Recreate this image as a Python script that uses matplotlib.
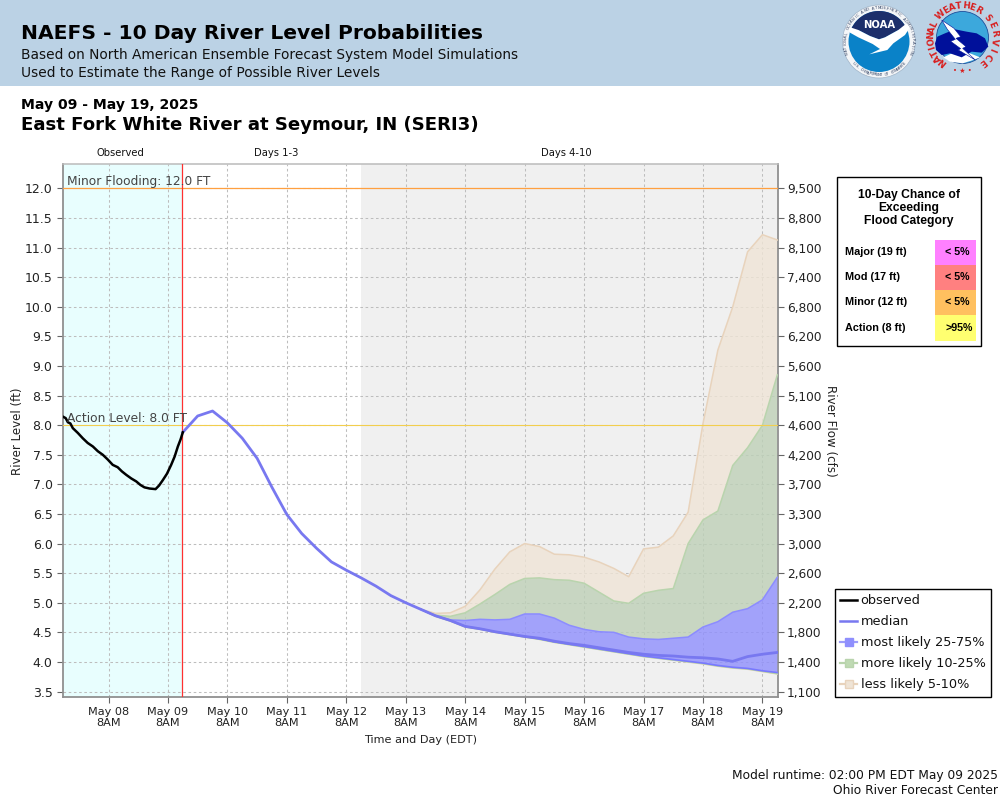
import numpy as np
import pandas as pd
import matplotlib
matplotlib.use('Agg')
import matplotlib.pyplot as plt
from matplotlib.lines import Line2D
from matplotlib.patches import Rectangle, Circle, Polygon

# ---------- data ----------
title = "NAEFS - 10 Day River Level Probabilities"
subtitle1 = "Based on North American Ensemble Forecast System Model Simulations"
subtitle2 = "Used to Estimate the Range of Possible River Levels"
date_range_text = "May 09 - May 19, 2025"
station = "East Fork White River at Seymour, IN (SERI3)"

obs_hours = [-18.2, -17.3, -16.4, -15.4, -14.4, -12.4, -10.4, -8.4, -6.3, -4.3, -2.3, -0.3, 1.7, 3.7, 5.4, 7.2, 9.2, 11.2, 12.9, 14.5, 16.6, 19.0, 20.4, 21.9, 23.6, 25.3, 26.7, 28.0, 29.1, 30.0]
observed = [8.14, 8.12, 8.05, 8.03, 7.95, 7.87, 7.78, 7.70, 7.64, 7.56, 7.50, 7.42, 7.33, 7.29, 7.22, 7.16, 7.10, 7.05, 6.99, 6.95, 6.93, 6.92, 6.98, 7.07, 7.18, 7.33, 7.47, 7.64, 7.76, 7.88]

median_early = [7.88, 8.156, 8.24, 8.04, 7.78, 7.44, 6.95, 6.49, 6.17, 5.92, 5.69, 5.55, 5.42, 5.28, 5.12, 5.00]
median_late = [4.89, 4.78, 4.70, 4.60, 4.56, 4.51, 4.47, 4.43, 4.40, 4.35, 4.31, 4.28, 4.24, 4.20, 4.16,
               4.13, 4.11, 4.10, 4.08, 4.07, 4.05, 4.01, 4.09, 4.13, 4.16]
p75 = [4.89, 4.78, 4.71, 4.70, 4.72, 4.71, 4.72, 4.81, 4.81, 4.74, 4.62, 4.55, 4.51, 4.50, 4.42,
       4.39, 4.38, 4.40, 4.42, 4.59, 4.68, 4.84, 4.90, 5.05, 5.43]
p25 = [4.89, 4.78, 4.70, 4.60, 4.56, 4.51, 4.47, 4.43, 4.39, 4.34, 4.30, 4.26, 4.22, 4.18, 4.14,
       4.10, 4.07, 4.04, 4.01, 3.98, 3.94, 3.91, 3.89, 3.85, 3.82]
p90 = [4.89, 4.79, 4.77, 4.83, 4.98, 5.14, 5.31, 5.41, 5.42, 5.39, 5.38, 5.33, 5.18, 5.03, 4.99,
       5.16, 5.21, 5.24, 6.00, 6.40, 6.55, 7.32, 7.62, 8.00, 8.85]
p10 = [4.89, 4.77, 4.69, 4.59, 4.55, 4.50, 4.46, 4.42, 4.38, 4.33, 4.29, 4.25, 4.21, 4.17, 4.13,
       4.09, 4.06, 4.03, 4.00, 3.97, 3.93, 3.90, 3.88, 3.84, 3.80]
p95 = [4.89, 4.82, 4.83, 4.94, 5.22, 5.57, 5.86, 6.00, 5.95, 5.82, 5.81, 5.77, 5.69, 5.58, 5.44,
       5.91, 5.94, 6.13, 6.53, 8.03, 9.27, 10.00, 10.93, 11.22, 11.13]
p5 = [4.89, 4.77, 4.69, 4.59, 4.55, 4.50, 4.46, 4.42, 4.38, 4.33, 4.29, 4.25, 4.21, 4.17, 4.13,
      4.09, 4.06, 4.03, 3.995, 3.965, 3.925, 3.895, 3.875, 3.835, 3.795]

stage_ticks = [3.5, 4.0, 4.5, 5.0, 5.5, 6.0, 6.5, 7.0, 7.5, 8.0, 8.5, 9.0, 9.5, 10.0, 10.5, 11.0, 11.5, 12.0]
flow_ticks = [1100, 1400, 1800, 2200, 2600, 3000, 3300, 3700, 4200, 4600, 5100, 5600, 6200, 6800, 7400, 8100, 8800, 9500]
day_ticks = ['May 08', 'May 09', 'May 10', 'May 11', 'May 12', 'May 13', 'May 14', 'May 15', 'May 16', 'May 17', 'May 18', 'May 19']

minor_level, action_level = 12.0, 8.0
cat_names = ['Major (19 ft)', 'Mod (17 ft)', 'Minor (12 ft)', 'Action (8 ft)']
cat_chance = ['< 5%', '< 5%', '< 5%', '>95%']
cat_colors = ['#FF80FF', '#FF8080', '#FFC05F', '#FFFF70']

# ---------- helpers ----------
W, H = 1000, 800
fig = plt.figure(figsize=(10, 8), dpi=100, facecolor='white')
plt.rcParams['font.family'] = 'DejaVu Sans'
def fx(x): return x / W
def fy(y): return 1 - y / H
def T(x, y, s, **kw):
    kw.setdefault('va', 'center')
    return fig.text(fx(x), fy(y), s, **kw)
def R(x0, y0, x1, y1, **kw):
    fig.add_artist(Rectangle((fx(x0), fy(y1)), (x1 - x0) / W, (y1 - y0) / H, transform=fig.transFigure, **kw))

# ---------- header ----------
R(0, 0, 1000, 86, facecolor='#BBD2E5', edgecolor='none', zorder=0)
T(21, 33.5, title, fontsize=14.6, fontweight='bold', color='black')
T(21, 55, subtitle1, fontsize=9.87, color='#111111')
T(21, 73, subtitle2, fontsize=9.87, color='#111111')
T(21, 105, date_range_text, fontsize=10.1, fontweight='bold', color='black')
T(21, 125.5, station, fontsize=13.1, fontweight='bold', color='black')

# ---------- main axes ----------
ax = fig.add_axes([fx(63), fy(697), (778 - 63) / W, (697 - 164) / H])
t0 = pd.Timestamp('2025-05-08 08:00')
def hrs(ts): return (ts - t0) / pd.Timedelta(hours=1)
fc_times = pd.date_range('2025-05-09 14:00', periods=41, freq='6h')
fc_x = np.array([hrs(t) for t in fc_times])
median = np.array(median_early + median_late)
late_x = fc_x[16:]
run_x = fc_x[0]
ext_x = fc_x[12]

scale = 59.45 / 24
x0_px = 108.5
x_left, x_right = (63 - x0_px) / scale, (778 - x0_px) / scale
ax.set_xlim(x_left, x_right)
y_per_px = 1 / 59.18
ax.set_ylim(3.5 - 5.5 * y_per_px, 12 + 24.5 * y_per_px)

ax.axvspan(x_left, run_x, facecolor='#E8FEFE', edgecolor='none', zorder=0)
ax.axvspan(ext_x, x_right, facecolor='#F0F0F0', edgecolor='none', zorder=0)

tick_x = np.arange(len(day_ticks)) * 24.0
ax.set_xticks(tick_x)
ax.set_xticklabels([d + '\n8AM' for d in day_ticks], fontsize=8.1, linespacing=1.15, color='#222222')
ax.set_yticks(stage_ticks)
ax.set_yticklabels(['%.1f' % v for v in stage_ticks], fontsize=9.0, color='#222222')
ax.tick_params(axis='x', length=4, width=0.8, color='#666666', pad=3)
ax.tick_params(axis='y', length=4, width=0.8, color='#666666', pad=3.5)
ax.grid(True, color='#BDBDBD', linestyle=(0, (2.5, 2.5)), linewidth=0.75, zorder=1)
ax.set_axisbelow(True)

# bands
ax.fill_between(late_x, p90, p95, facecolor='#EFE4D6', alpha=0.8, edgecolor='none', zorder=2)
ax.fill_between(late_x, p75, p90, facecolor='#BED0B7', alpha=0.8, edgecolor='none', zorder=2)
ax.fill_between(late_x, p25, p75, facecolor='#8F8FFD', alpha=0.8, edgecolor='none', zorder=3)
ax.fill_between(late_x, p10, p25, facecolor='#BED0B7', alpha=0.8, edgecolor='none', zorder=2)
ax.fill_between(late_x, p5, p10, facecolor='#EFE4D6', alpha=0.8, edgecolor='none', zorder=2)
ax.plot(late_x, p95, color='#E8D3BC', lw=1.1, zorder=3)
ax.plot(late_x, p90, color='#B9D4AD', lw=1.1, zorder=3)
ax.plot(late_x, p5, color='#E8D3BC', lw=1.0, zorder=3)
ax.plot(late_x, p10, color='#B0D4A4', lw=1.0, zorder=3)
ax.plot(late_x, p75, color='#8C8CFF', lw=1.1, zorder=4)
ax.plot(late_x, p25, color='#7878FF', lw=1.2, zorder=4)

# levels
ax.axhline(minor_level, color='#FFA040', lw=0.9, zorder=5)
ax.axhline(action_level, color='#F2CE4E', lw=0.8, zorder=5)
ax.axvline(run_x - 0.4, color='#FF3030', lw=0.9, zorder=6)

# lines
ax.plot(fc_x, median, color='#7878F0', lw=2.0, solid_joinstyle='round', zorder=7)
ax.plot(obs_hours, observed, color='black', lw=1.8, solid_joinstyle='round', zorder=8)

ax.text((67 - x0_px) / scale, 12.12, 'Minor Flooding: 12.0 FT', fontsize=8.85, color='#444444', va='center', zorder=9)
ax.text((67 - x0_px) / scale, 8.12, 'Action Level: 8.0 FT', fontsize=8.85, color='#444444', va='center', zorder=9)

for side, col, w in [('left', '#909090', 1.3), ('bottom', '#909090', 1.3), ('right', '#909090', 1.3), ('top', '#BBBBBB', 1.1)]:
    ax.spines[side].set_color(col)
    ax.spines[side].set_linewidth(w)

axr = ax.twinx()
axr.set_ylim(ax.get_ylim())
axr.set_yticks(stage_ticks)
axr.set_yticklabels(['{:,}'.format(v) for v in flow_ticks], fontsize=8.7, color='#222222')
axr.tick_params(axis='y', length=4, width=0.8, color='#666666', pad=2.5)
for s in axr.spines.values():
    s.set_visible(False)

T(120, 153.5, 'Observed', fontsize=7.2, ha='center', color='#111111')
T(276.5, 153.5, 'Days 1-3', fontsize=7.2, ha='center', color='#111111')
T(566.5, 153.5, 'Days 4-10', fontsize=7.2, ha='center', color='#111111')
T(421, 740, 'Time and Day (EDT)', fontsize=8.1, ha='center', color='#222222')
T(18, 431, 'River Level (ft)', fontsize=8.6, ha='center', rotation=90, color='#222222')
T(831, 431, 'River Flow (cfs)', fontsize=8.6, ha='center', rotation=-90, color='#222222')

# ---------- legend ----------
handles = [
    Line2D([], [], color='black', lw=1.8),
    Line2D([], [], color='#7878F0', lw=1.8),
    Line2D([], [], color='#9C9CFA', lw=1.6, marker='s', ms=5.5, mfc='#8F8FFD', mec='#8F8FFD'),
    Line2D([], [], color='#B9D4AD', lw=1.6, marker='s', ms=5.5, mfc='#BFDAB3', mec='#B9D4AD'),
    Line2D([], [], color='#E8D3BC', lw=1.6, marker='s', ms=5.5, mfc='#EFE4D6', mec='#E8D3BC'),
]
labels = ['observed', 'median', 'most likely 25-75%', 'more likely 10-25%', 'less likely 5-10%']
leg = fig.legend(handles, labels, loc='lower left', bbox_to_anchor=(fx(835), fy(696.5)), bbox_transform=fig.transFigure,
                 fontsize=9.3, frameon=True, fancybox=False, edgecolor='black', framealpha=1,
                 handlelength=1.3, handletextpad=0.28, labelspacing=0.62, borderpad=0.4, borderaxespad=0)
leg.get_frame().set_linewidth(1.0)
for t in leg.get_texts():
    t.set_color('#111111')

# ---------- flood category box ----------
R(836.5, 176.5, 980.5, 345.5, facecolor='white', edgecolor='black', lw=1.0, zorder=3)
lib = 'Liberation Sans'
for yy, s in zip([195, 208, 221], ['10-Day Chance of', 'Exceeding', 'Flood Category']):
    T(909, yy, s, fontsize=8.7, fontweight='bold', family=lib, ha='center', zorder=5)
cell_y = [240, 265, 290, 315, 341]
for i, (n, c, col) in enumerate(zip(cat_names, cat_chance, cat_colors)):
    R(935, cell_y[i], 976, cell_y[i + 1], facecolor=col, edgecolor='none', zorder=4)
    ym = (cell_y[i] + cell_y[i + 1]) / 2 - 0.5
    T(845, ym, n, fontsize=7.8, fontweight='bold', family=lib, zorder=5)
    T(945, ym, c, fontsize=7.7, fontweight='bold', family=lib, zorder=5)

# ---------- footer ----------
T(998, 775.5, 'Model runtime: 02:00 PM EDT May 09 2025', fontsize=8.8, ha='right', color='#111111')
T(998, 791, 'Ohio River Forecast Center', fontsize=8.8, ha='right', color='#111111')

# ---------- logos ----------
lg = fig.add_axes([fx(830), fy(86), 170 / W, 86 / H])
lg.set_xlim(830, 1000)
lg.set_ylim(86, 0)
lg.axis('off')
lg.patch.set_alpha(0)
def Z(pts): return [(830 + a / 3, b / 3) for a, b in pts]
def ring_cw(cx, cy, r, s, a0, a1, **kw):
    for ch, a in zip(s, np.linspace(a0, a1, len(s))):
        rad = np.deg2rad(a)
        lg.text(cx + r * np.cos(rad), cy + r * np.sin(rad), ch, rotation=-(a + 90), rotation_mode='anchor',
                ha='center', va='center', **kw)
def ring_ccw(cx, cy, r, s, a0, a1, **kw):
    for ch, a in zip(s, np.linspace(a0, a1, len(s))):
        rad = np.deg2rad(a)
        lg.text(cx + r * np.cos(rad), cy + r * np.sin(rad), ch, rotation=-(a - 90), rotation_mode='anchor',
                ha='center', va='center', **kw)

# NOAA
cx, cy = 879, 41.5
lg.add_patch(Circle((cx, cy), 36.5, facecolor='#F4F6F8', edgecolor='#A0B4C8', lw=0.5))
lg.add_patch(Circle((cx, cy), 30.5, facecolor='#0A82C8', edgecolor='none'))
ang = np.deg2rad(np.linspace(198, 338, 40))
navy = [(cx + 30.5 * np.cos(a), cy + 30.5 * np.sin(a)) for a in ang] + Z([(205, 90), (165, 112), (147, 118), (120, 108), (85, 90)])
lg.add_patch(Polygon(navy, closed=True, facecolor='#1C2F6B', edgecolor='none'))
lg.add_patch(Polygon(Z([(55, 80), (85, 90), (120, 108), (147, 118), (165, 112), (205, 90), (235, 66), (238, 85), (225, 105),
                        (190, 130), (172, 150), (118, 163), (150, 147), (128, 132), (85, 112), (60, 98)]),
                     closed=True, facecolor='white', edgecolor='none'))
lg.text(879, 24.5, 'NOAA', fontsize=7.2, fontweight='bold', color='white', ha='center', va='center')
ring_cw(cx, cy, 33.5, 'NATIONAL OCEANIC AND ATMOSPHERIC ADMINISTRATION', 160, 380, fontsize=2.8, color='#334466')
ring_ccw(cx, cy, 33.5, 'U.S. DEPARTMENT OF COMMERCE', 140, 40, fontsize=2.8, color='#334466')

# NWS
cx2, cy2 = 962.5, 37.5
lg.add_patch(Circle((cx2, cy2), 26, facecolor='#3CA8DC', edgecolor='#1E4E9A', lw=0.6))
lg.add_patch(Polygon(Z([(340, 172), (370, 158), (420, 160), (450, 172), (430, 180), (398, 190), (360, 185)]), closed=True, facecolor='white', edgecolor='none'))
lg.add_patch(Polygon(Z([(315, 130), (322, 110), (345, 100), (375, 88), (410, 95), (440, 100), (465, 115), (475, 140), (455, 158),
                        (425, 155), (395, 172), (360, 160), (335, 165), (318, 150)]),
                     closed=True, facecolor='#00109A', edgecolor='none'))
lg.add_patch(Polygon(Z([(335, 60), (372, 85), (392, 110), (378, 115), (408, 140), (398, 145), (436, 180), (385, 150), (392, 146),
                        (362, 124), (376, 118), (352, 88)]),
                     closed=True, facecolor='white', edgecolor='#00109A', lw=0.4))
ring_cw(cx2, cy2, 31.5, 'NATIONAL', 130, 205, fontsize=6.4, fontweight='bold', color='#D82020')
ring_cw(cx2, cy2, 31.5, 'WEATHER', 227, 300, fontsize=6.4, fontweight='bold', color='#D82020')
ring_cw(cx2, cy2, 31.5, 'SERVICE', 322, 412, fontsize=6.4, fontweight='bold', color='#D82020')
lg.text(cx2, 71, '\u2022 \u2605 \u2022', fontsize=5, color='#D82020', ha='center', va='center')

fig.savefig('out.png', dpi=100)
